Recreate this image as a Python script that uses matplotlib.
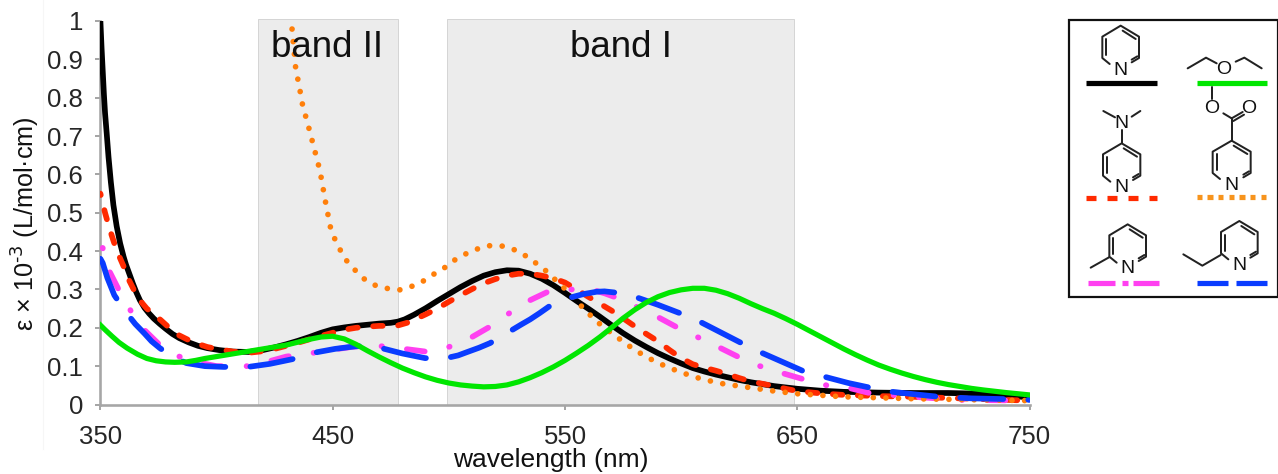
import matplotlib
matplotlib.use("Agg")
import matplotlib.pyplot as plt
from matplotlib.lines import Line2D
from matplotlib.patches import Rectangle

plt.rcParams['font.family'] = ['Liberation Sans', 'DejaVu Sans']
plt.rcParams['mathtext.default'] = 'regular'
plt.rcParams['lines.scale_dashes'] = False

# ---- data ----
black_x = [350,350.5,351,351.5,352,352.7,353.5,354.5,355.6,357,358.5,360,361,362.5,364,365.5,367,369,371,373,375.6,378,381,384,388,392,396,401,407,414,420,425,430,435,440,445,450,455,460,465,470,475,478,481,485,490,495,500,505,510,515,520,525,530,535,540,545,550,555,560,565,570,575,580,585,590,595,600,605,610,615,620,625,630,635,640,650,660,670,685,700,715,730,740,750]
black_y = [1.0,.93,.87,.81,.76,.708,.645,.58,.52,.465,.42,.385,.365,.34,.315,.292,.272,.252,.237,.224,.21,.198,.184,.173,.162,.153,.147,.142,.138,.137,.142,.149,.157,.166,.176,.187,.196,.201,.205,.208,.211,.213,.216,.222,.234,.251,.27,.288,.306,.322,.336,.345,.35,.349,.341,.328,.311,.291,.27,.25,.229,.207,.186,.167,.15,.134,.12,.107,.095,.086,.078,.071,.064,.058,.053,.048,.041,.036,.033,.031,.03,.03,.028,.024,.018]
red_x = [350,351,352,354,356,358,360,362.5,365,367.5,370,373,376,380,384,388,392,396,400,407,414,420,425,430,435,440,445,450,455,460,465,470,475,478,482,485,490,495,500,505,510,515,520,525,530,535,540,545,550,555,560,565,570,575,580,585,590,595,600,605,610,615,620,625,630,635,640,645,650,660,670,685,700,725,750]
red_y = [.55,.525,.5,.457,.42,.388,.36,.322,.292,.268,.25,.235,.22,.198,.18,.168,.158,.15,.145,.138,.135,.139,.145,.153,.161,.17,.179,.187,.195,.2,.203,.205,.205,.206,.213,.221,.235,.25,.268,.285,.301,.316,.327,.336,.341,.341,.336,.329,.318,.3,.281,.263,.245,.225,.204,.184,.165,.142,.121,.105,.096,.088,.079,.069,.06,.054,.048,.041,.035,.029,.025,.022,.02,.015,.01]
orange_x = [432.5,433,434,435,436,437,440,444.5,447,449,451,453.5,456,460,464,468.6,473,479,484,489,493,498,502,507,512,517,522.3,527,532,536.5,541,545,549,552,556.5,560,564,568,573,577,581.5,586,591,596,601,605,610,617,625,640,650,670,700,750]
orange_y = [.979,.946,.881,.848,.816,.782,.715,.61,.525,.463,.43,.40,.375,.348,.325,.31,.303,.299,.308,.322,.338,.356,.375,.392,.405,.414,.414,.407,.392,.373,.353,.33,.307,.29,.26,.238,.215,.195,.173,.155,.137,.121,.106,.093,.082,.073,.065,.055,.048,.035,.028,.02,.015,.01]
magenta_x = [350,351,354,358,363,369,375.6,384,392,400,415,430,442,450,458,465,471,481,490,495,500,505,510,517.7,526,535,543,548,553,558,563,567,571.5,580,590,598,607,617,625,634,644,652.6,662.6,673,681,700,720,750]
magenta_y = [.42,.408,.346,.298,.245,.194,.155,.125,.11,.1,.1,.125,.135,.143,.15,.153,.152,.145,.138,.142,.15,.162,.176,.203,.238,.272,.295,.298,.30,.30,.297,.29,.28,.257,.228,.202,.176,.147,.123,.1,.081,.066,.05,.042,.03,.02,.012,.01]
blue_x = [350,351,353,356,359,362,365,369,372,375.6,381,387,395,403,413.6,423,432.5,442,451,460,465,471,480,489.7,495,499.6,504,508,513,517.7,522,526.6,531,535,539,543,548,553,558,563.6,567,571.5,576,581.5,590,599.5,609,618,627,635,644,653,662.6,672,682,691,700,711,725,740,750]
blue_y = [.38,.369,.33,.285,.258,.233,.21,.185,.165,.147,.125,.108,.1,.098,.098,.106,.118,.135,.145,.152,.152,.147,.133,.121,.12,.122,.128,.137,.148,.16,.175,.192,.208,.222,.238,.255,.27,.28,.288,.294,.295,.292,.287,.278,.26,.238,.213,.185,.157,.134,.11,.086,.071,.056,.043,.033,.027,.02,.016,.014,.012]
green_x = [350,352,355,358,361.5,366,370,374,378,382,387,391,395,400,405,410,415,420,425,430,436,440,445,450,455,460,465,470,475,480,485,490,495,500,505,510,515,520,525,530,535,540,545,550,555,560,565,570,575,580,585,590,595,600,605,610,615,620,625,630,635,640,645,650,655,660,665,670,675,680,685,690,695,700,705,710,715,720,725,730,740,750]
green_y = [.207,.195,.178,.162,.147,.131,.12,.114,.111,.11,.111,.115,.12,.125,.13,.135,.14,.145,.15,.155,.164,.17,.176,.178,.171,.157,.14,.124,.109,.095,.083,.072,.063,.056,.051,.048,.046,.047,.051,.059,.07,.083,.098,.115,.134,.154,.176,.2,.225,.247,.266,.281,.292,.299,.303,.303,.298,.289,.277,.263,.25,.238,.224,.209,.193,.177,.161,.145,.13,.116,.103,.092,.082,.073,.065,.058,.052,.047,.042,.038,.031,.025]

x_ticks = [350,450,550,650,750]
y_ticks = [0,.1,.2,.3,.4,.5,.6,.7,.8,.9,1]
y_labels = ['0','0.1','0.2','0.3','0.4','0.5','0.6','0.7','0.8','0.9','1']
bands = [('band II',418,478),('band I',499.3,648.5)]

W, H = 1278, 474
px = 0.72
fig = plt.figure(figsize=(W/100, H/100), dpi=100)
ax = fig.add_axes([100.4/W, 1-404.5/H, (1029.6-100.4)/W, (404.5-21)/H])
ax.set_xlim(350, 750); ax.set_ylim(0, 1)
GR = '#a6a6a6'
for s in ('top','right'):
    ax.spines[s].set_visible(False)
for s in ('left','bottom'):
    ax.spines[s].set_color(GR); ax.spines[s].set_linewidth(2.6*px)
ax.set_xticks(x_ticks); ax.set_yticks(y_ticks); ax.set_yticklabels(y_labels)
ax.tick_params(axis='both', color=GR, width=2*px, length=5*px, labelsize=18.5, labelcolor='#262626')
ax.tick_params(axis='x', pad=11)
ax.tick_params(axis='y', pad=9)

for name, a, b in bands:
    ax.add_patch(Rectangle((a, 0), b-a, 1.005, facecolor='#ececec', edgecolor='#d4d4d4', lw=0.7, zorder=0, clip_on=False))
    ax.text((a+b)/2 - (0.5 if name == 'band II' else -0.2), .93, name, ha='center', va='center', fontsize=26.5, color='#111111', zorder=10)

ax.plot(black_x, black_y, color='black', lw=5.7*px, solid_joinstyle='round', zorder=3)
ax.plot(red_x, red_y, color='#ff2a00', lw=5.7*px, dash_capstyle='round', dash_joinstyle='round',
        linestyle=(8*px,(9.5*px,15.5*px)), zorder=4)
ax.plot(magenta_x, magenta_y, color='#ff40f0', lw=5.7*px, dash_capstyle='round', dash_joinstyle='round',
        linestyle=(38*px,(18*px,25*px,0.5*px,25*px)), zorder=5)
ax.plot(orange_x, orange_y, color='#ff7f0a', lw=5.7*px, dash_capstyle='round',
        linestyle=(0,(0.01,12.6*px)), zorder=6, clip_on=False)
ax.plot(blue_x, blue_y, color='#0a3cff', lw=5.7*px, dash_capstyle='round', dash_joinstyle='round',
        linestyle=(0,(43*px,25*px)), zorder=7)
ax.plot(green_x, green_y, color='#00e600', lw=5.2*px, solid_joinstyle='round', zorder=8)

ax.set_xlabel('wavelength (nm)', fontsize=19, color='#111111')
ax.xaxis.set_label_coords((550.5-100.4)/929.2, -(460-404.5)/383.5, transform=ax.transAxes)
ax.xaxis.label.set_va('center')
ax.set_ylabel(r'ε × 10$^{\text{-3}}$ (L/mol·cm)', fontsize=18.2, color='#111111')
ax.yaxis.set_label_coords(-(100.4-26)/929.2, (404.5-224)/383.5, transform=ax.transAxes)
ax.yaxis.label.set_va('center')

# ---- overlay in pixel units for the legend panel ----
ov = fig.add_axes([0,0,1,1], zorder=20)
ov.set_xlim(0, W); ov.set_ylim(H, 0); ov.axis('off'); ov.patch.set_alpha(0)
ov.add_line(Line2D([42.5,42.5],[0,449], color='#f6f6f6', lw=0.8))
ov.add_patch(Rectangle((1069,20),209,277, fill=False, edgecolor='#111111', lw=2.2*px))

OX, OY = 1060, 10
def Z(x, y):
    return OX + x/3, OY + y/3
def bond(*pts):
    xs, ys = zip(*[Z(*p) for p in pts])
    ov.add_line(Line2D(xs, ys, color='#222222', lw=2.0*px, solid_capstyle='round'))
def atom(x, y, s):
    X, Y = Z(x, y)
    ov.text(X, Y, s, ha='center', va='center', fontsize=14, color='#111111')
def ring(c, top, w=56):
    t = top; u = top+33; l = top+97; b = top+130
    bond((c-w+22, l+18), (c-w, l), (c-w, u), (c, t), (c+w, u), (c+w, l), (c+w-22, l+13))
    bond((c-w+12, u+8), (c-w+12, l-8))
    bond((c+6, t+15), (c+w-10, u+7))
    bond((c+w-22, l+5), (c+w-5, l-5))
    atom(c, b+3, 'N')
def key(segs, y, color):
    for a, b in segs:
        (xa, ya), (xb, yb) = Z(a, y), Z(b, y)
        ov.add_line(Line2D([xa,xb],[ya,yb], color=color, lw=5.2*px, solid_capstyle='butt'))

# pyridine
ring(182, 47, 55)
key([(78,290)], 218, 'black')
# diethyl ether
bond((383,175),(438,143),(470,160)); atom(492,177,'O'); bond((527,155),(553,143),(605,175))
key([(410,622)], 218, '#00e600')
# DMAP
bond((130,303),(165,322)); bond((215,320),(241,303)); atom(185,340,'N'); bond((185,360),(185,400))
ring(185, 400, 56)
key([(78,108),(140,170),(203,235),(266,290)], 563, '#ff2a00')
# ester
bond((456,230),(456,267)); atom(456,296,'O'); atom(567,296,'O')
bond((490,310),(515,325)); bond((515,325),(548,306)); bond((520,333),(552,314)); bond((515,325),(515,392))
ring(515, 392, 57)
key([(410+32*i, 426+32*i) for i in range(7)], 560, '#f7941d')
# 2-methyl
ring(203, 643, 55); bond((147,742),(92,773))
key([(85,165),(187,203),(218,298)], 818, '#ff40f0')
# 2-ethyl
ring(538, 633, 55); bond((482,735),(427,767),(370,733))
key([(410,505),(527,622)], 818, '#0a3cff')

fig.savefig('out.png', dpi=100)
